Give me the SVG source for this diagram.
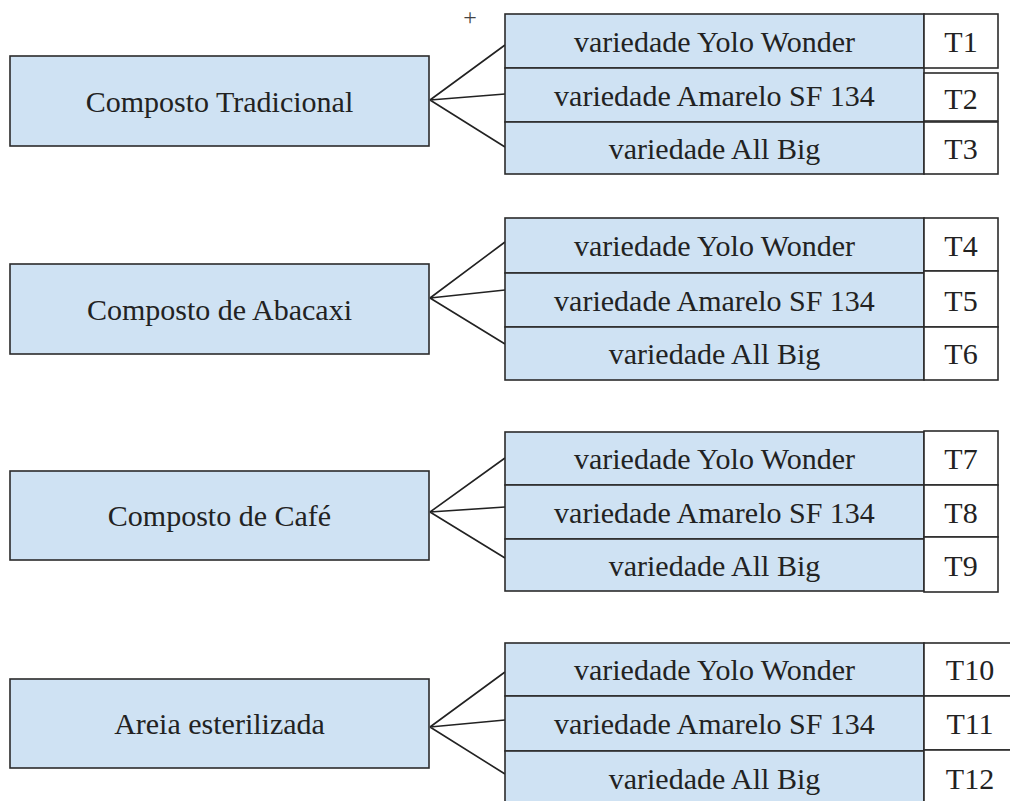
<svg xmlns="http://www.w3.org/2000/svg" width="1010" height="801" viewBox="0 0 1010 801">
<style>
.box{fill:#cfe2f3;stroke:#2b2b2b;stroke-width:1.6}
.tbox{fill:#ffffff;stroke:#2b2b2b;stroke-width:1.6}
.lbl{font-family:"Liberation Serif","Times New Roman",serif;font-size:30px;fill:#222;text-anchor:middle}
.conn{stroke:#222;stroke-width:1.6;fill:none}
</style>
<rect width="1010" height="801" fill="#ffffff"/>
<text x="470" y="25" font-family="Liberation Serif, serif" font-size="24" fill="#444" text-anchor="middle">+</text>
<g id="connectors">
<path class="conn" d="M430,100 L505,45 M430,100 L505,94 M430,100 L505,147"/>
<path class="conn" d="M430,298 L505,242 M430,298 L505,290 M430,298 L505,344"/>
<path class="conn" d="M430,512 L505,458 M430,512 L505,507 M430,512 L505,558"/>
<path class="conn" d="M430,727 L505,672 M430,727 L505,720 M430,727 L505,774"/>
</g>
<g id="composto-tradicional">
<rect class="box" x="10" y="56" width="419" height="90"/>
<text class="lbl" x="219.5" y="112">Composto Tradicional</text>
</g>
<g id="g1-varieties">
<rect class="box" x="505" y="14" width="419" height="54"/>
<rect class="box" x="505" y="68" width="419" height="54"/>
<rect class="box" x="505" y="122" width="419" height="52"/>
<text class="lbl" x="714.5" y="52">variedade Yolo Wonder</text>
<text class="lbl" x="714.5" y="106">variedade Amarelo SF 134</text>
<text class="lbl" x="714.5" y="159">variedade All Big</text>
<rect class="tbox" x="924" y="14" width="74" height="54"/>
<rect class="tbox" x="924" y="73" width="74" height="48"/>
<rect class="tbox" x="924" y="122" width="74" height="52"/>
<text class="lbl" x="961" y="52">T1</text>
<text class="lbl" x="961" y="109">T2</text>
<text class="lbl" x="961" y="159">T3</text>
</g>
<g id="composto-abacaxi">
<rect class="box" x="10" y="264" width="419" height="90"/>
<text class="lbl" x="219.5" y="320">Composto de Abacaxi</text>
</g>
<g id="g2-varieties">
<rect class="box" x="505" y="218" width="419" height="55"/>
<rect class="box" x="505" y="273" width="419" height="54"/>
<rect class="box" x="505" y="327" width="419" height="53"/>
<text class="lbl" x="714.5" y="256">variedade Yolo Wonder</text>
<text class="lbl" x="714.5" y="311">variedade Amarelo SF 134</text>
<text class="lbl" x="714.5" y="364">variedade All Big</text>
<rect class="tbox" x="924" y="218" width="74" height="53"/>
<rect class="tbox" x="924" y="271" width="74" height="56"/>
<rect class="tbox" x="924" y="327" width="74" height="53"/>
<text class="lbl" x="961" y="256">T4</text>
<text class="lbl" x="961" y="311">T5</text>
<text class="lbl" x="961" y="364">T6</text>
</g>
<g id="composto-cafe">
<rect class="box" x="10" y="471" width="419" height="89"/>
<text class="lbl" x="219.5" y="526">Composto de Café</text>
</g>
<g id="g3-varieties">
<rect class="box" x="505" y="432" width="419" height="53"/>
<rect class="box" x="505" y="485" width="419" height="54"/>
<rect class="box" x="505" y="539" width="419" height="52"/>
<text class="lbl" x="714.5" y="469">variedade Yolo Wonder</text>
<text class="lbl" x="714.5" y="523">variedade Amarelo SF 134</text>
<text class="lbl" x="714.5" y="576">variedade All Big</text>
<rect class="tbox" x="924" y="431" width="74" height="54"/>
<rect class="tbox" x="924" y="485" width="74" height="52"/>
<rect class="tbox" x="924" y="537" width="74" height="55"/>
<text class="lbl" x="961" y="469">T7</text>
<text class="lbl" x="961" y="523">T8</text>
<text class="lbl" x="961" y="576">T9</text>
</g>
<g id="areia-esterilizada">
<rect class="box" x="10" y="679" width="419" height="89"/>
<text class="lbl" x="219.5" y="734">Areia esterilizada</text>
</g>
<g id="g4-varieties">
<rect class="box" x="505" y="643" width="419" height="53"/>
<rect class="box" x="505" y="696" width="419" height="55"/>
<rect class="box" x="505" y="751" width="419" height="60"/>
<text class="lbl" x="714.5" y="680">variedade Yolo Wonder</text>
<text class="lbl" x="714.5" y="734">variedade Amarelo SF 134</text>
<text class="lbl" x="714.5" y="789">variedade All Big</text>
<rect class="tbox" x="924" y="643" width="100" height="53"/>
<rect class="tbox" x="924" y="696" width="100" height="54"/>
<rect class="tbox" x="924" y="750" width="100" height="60"/>
<text class="lbl" x="970" y="680">T10</text>
<text class="lbl" x="970" y="734">T11</text>
<text class="lbl" x="970" y="789">T12</text>
</g>
</svg>
